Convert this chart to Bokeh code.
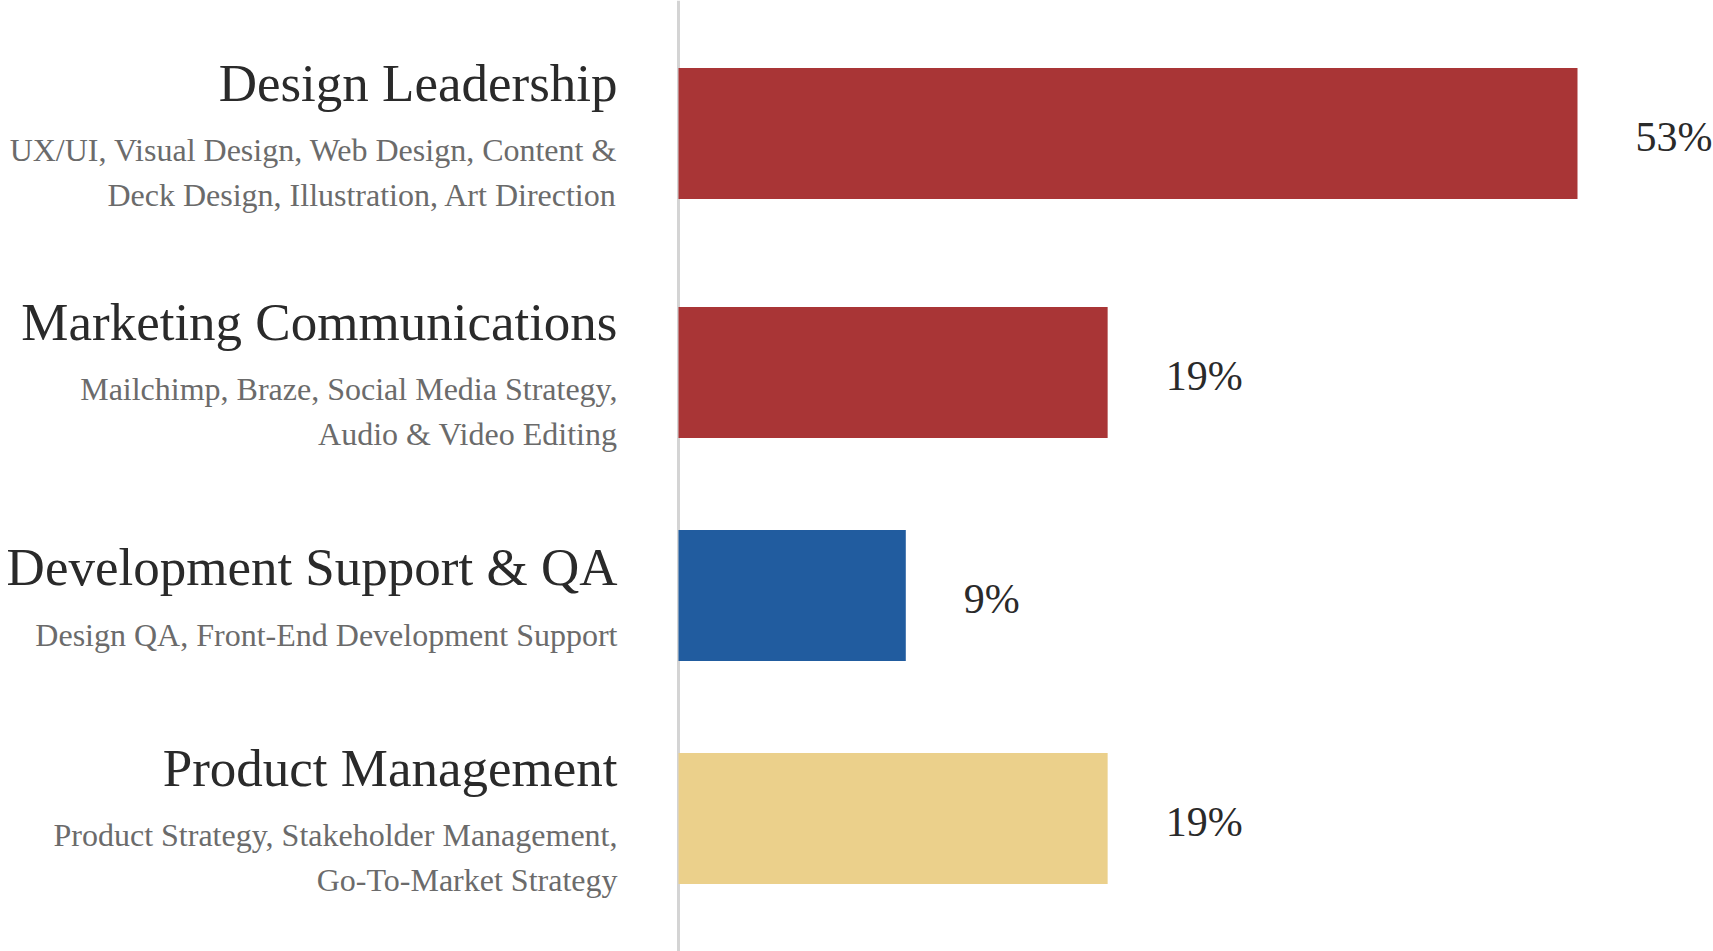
from bokeh.plotting import figure
from bokeh.models import ColumnDataSource, Range1d, Span
from bokeh.embed import file_html
from bokeh.resources import INLINE
from bokeh.core.properties import value

# ---- data ----
categories = [
    "Design Leadership",
    "Marketing Communications",
    "Development Support & QA",
    "Product Management",
]
subtitles = [
    ["UX/UI, Visual Design, Web Design, Content &", "Deck Design, Illustration, Art Direction"],
    ["Mailchimp, Braze, Social Media Strategy,", "Audio & Video Editing"],
    ["Design QA, Front-End Development Support"],
    ["Product Strategy, Stakeholder Management,", "Go-To-Market Strategy"],
]
bar_lengths = [53, 25.3, 13.4, 25.3]
share_labels = ["53%", "19%", "9%", "19%"]
bar_colors = ["#A93536", "#A93536", "#215C9F", "#EBD08B"]

# ---- layout constants (pixels) ----
W, H = 1713, 951
ORIGIN_PX = 678
MAX_BAR_PX = 899
BAR_H = 131
GAP = 76
TITLE_BLOCK = 73
LINE_H = 45
TEXT_GAP = 61
LABEL_GAP = 58

FONT = value("Liberation Serif")

px_per_unit = MAX_BAR_PX / max(bar_lengths)
x_start = -ORIGIN_PX / px_per_unit
x_end = (W - ORIGIN_PX) / px_per_unit

row_h = [max(BAR_H, TITLE_BLOCK + LINE_H * len(s)) + GAP for s in subtitles]
top = (H - sum(row_h)) / 2
centers = []
acc = top
for h in row_h:
    centers.append(acc + h / 2)
    acc += h

title_y, sub_text, sub_y = [], [], []
for c, subs in zip(centers, subtitles):
    th = TITLE_BLOCK + LINE_H * len(subs)
    bt = c - th / 2
    title_y.append(bt + 30.5)
    for k, line in enumerate(subs):
        sub_text.append(line)
        sub_y.append(bt + 98 + LINE_H * k)

p = figure(width=W, height=H, x_range=Range1d(x_start, x_end), y_range=Range1d(H, 0),
           output_backend="svg", toolbar_location=None, min_border=0,
           x_axis_location=None, y_axis_location=None)
p.outline_line_color = None
p.grid.visible = False
p.background_fill_color = "white"
p.border_fill_color = "white"

p.add_layout(Span(location=0, dimension="height", line_color="#D4D4D4",
                  line_width=3, level="underlay"))

bars = ColumnDataSource(dict(y=centers, right=bar_lengths, color=bar_colors,
                             label=share_labels, ly=[c + 3 for c in centers]))
p.hbar(y="y", left=0, right="right", height=BAR_H, fill_color="color",
       line_color=None, source=bars)

p.text(x="right", y="ly", text="label", source=bars, x_offset=LABEL_GAP,
       text_align="left", text_baseline="alphabetic", text_font=FONT,
       text_font_size=value("42px"), text_color="#2A2A2A")

titles = ColumnDataSource(dict(x=[0] * len(categories), y=title_y, text=categories))
p.text(x="x", y="y", text="text", source=titles, x_offset=-TEXT_GAP,
       text_align="right", text_baseline="alphabetic", text_font=FONT,
       text_font_size=value("53px"), text_color="#2A2A2A")

subs_src = ColumnDataSource(dict(x=[0] * len(sub_text), y=sub_y, text=sub_text))
p.text(x="x", y="y", text="text", source=subs_src, x_offset=-TEXT_GAP,
       text_align="right", text_baseline="alphabetic", text_font=FONT,
       text_font_size=value("32px"), text_color="#6B6B6B")

open("out.html", "w").write(file_html(p, INLINE))
